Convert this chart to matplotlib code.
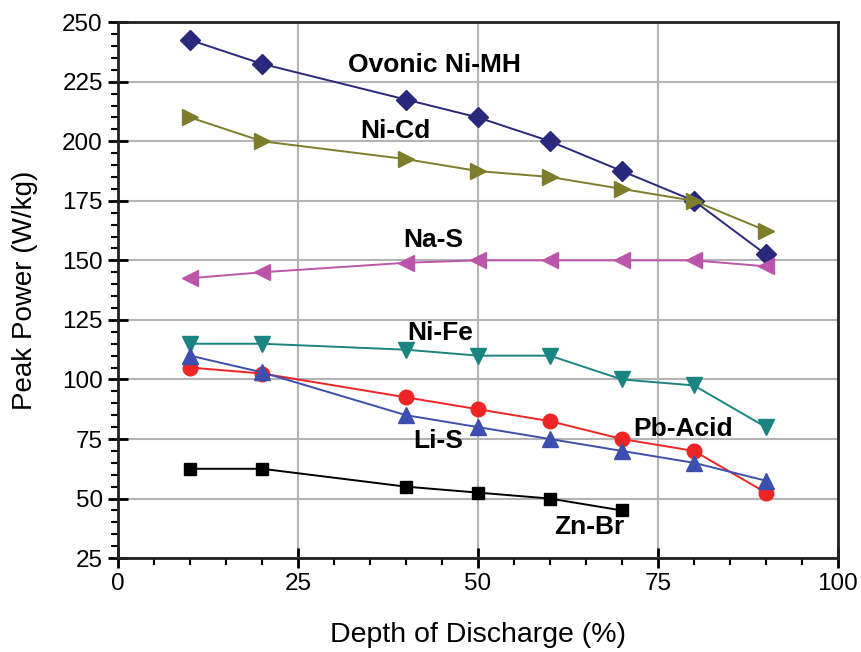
import matplotlib.pyplot as plt
from matplotlib.ticker import MultipleLocator

plt.rcParams['font.family'] = ['Liberation Sans', 'DejaVu Sans']

# Depth of discharge (%)
dod = [10, 20, 40, 50, 60, 70, 80, 90]
dod_znbr = [10, 20, 40, 50, 60, 70]

# Peak power (W/kg)
ni_mh = [242.5, 232.5, 217.5, 210, 200, 187.5, 175, 152.5]
ni_cd = [210, 200, 192.5, 187.5, 185, 180, 175, 162.5]
na_s = [142.5, 145, 149, 150, 150, 150, 150, 147.5]
ni_fe = [115, 115, 112.5, 110, 110, 100, 97.5, 80]
pb_acid = [105, 102.5, 92.5, 87.5, 82.5, 75, 70, 52.5]
li_s = [110, 103, 85, 80, 75, 70, 65, 57.5]
zn_br = [62.5, 62.5, 55, 52.5, 50, 45]

fig = plt.figure(figsize=(8.62, 6.52), dpi=100)
ax = fig.add_axes([0.137, 0.144, 0.835, 0.822])

# --- Series ---
series = [
    (dod, ni_mh, "#28287c", "D", 10.5),
    (dod, ni_cd, "#7d7d2c", ">", 12),
    (dod, na_s, "#bb55aa", "<", 12),
    (dod, ni_fe, "#1a8480", "v", 12),
    (dod, pb_acid, "#ee2525", "o", 10.5),
    (dod, li_s, "#3c4fae", "^", 12),
    (dod_znbr, zn_br, "#000000", "s", 8.5),
]
for x, y, c, m, ms in series:
    ax.plot(x, y, color=c, marker=m, markersize=ms, linewidth=1.4, zorder=3)

# --- Series labels ---
label_kw = dict(fontsize=19, fontweight="bold", ha="center", va="center")
ax.text(44, 232, "Ovonic Ni-MH", **label_kw)
ax.text(38.5, 204.5, "Ni-Cd", **label_kw)
ax.text(43.8, 158.5, "Na-S", **label_kw)
ax.text(44.7, 119.5, "Ni-Fe", **label_kw)
ax.text(44.5, 74, "Li-S", **label_kw)
ax.text(78.5, 79, "Pb-Acid", **label_kw)
ax.text(65.5, 38, "Zn-Br", **label_kw)

# --- Axes ---
ax.set_xlim(0, 100)
ax.set_ylim(25, 250)
ax.xaxis.set_major_locator(MultipleLocator(25))
ax.xaxis.set_minor_locator(MultipleLocator(5))
ax.yaxis.set_major_locator(MultipleLocator(25))
ax.yaxis.set_minor_locator(MultipleLocator(5))
ax.tick_params(which="major", direction="inout", length=14, width=2, labelsize=17.5, pad=4)
ax.tick_params(which="minor", direction="out", length=5, width=1.5)
ax.grid(True, which="major", color="#b4b4b4", linewidth=1.5, zorder=0)
ax.set_axisbelow(True)
for sp in ax.spines.values():
    sp.set_linewidth(2)
    sp.set_color("#222222")

ax.set_xlabel("Depth of Discharge (%)", fontsize=20.5, labelpad=19)
ax.set_ylabel("Peak Power (W/kg)", fontsize=20, labelpad=17)

fig.savefig("out.png", dpi=100)
